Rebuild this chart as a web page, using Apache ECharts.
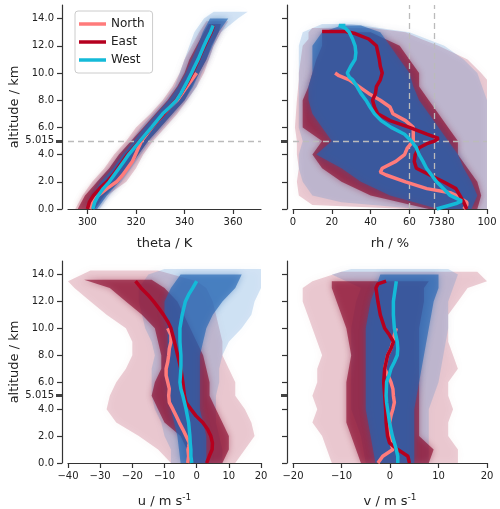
<!DOCTYPE html>
<html>
<head>
<meta charset="utf-8">
<script src="https://cdn.jsdelivr.net/npm/echarts@6/dist/echarts.min.js"></script>
<style>html,body{margin:0;padding:0;background:#fff}#c{width:500px;height:509px}</style>
</head>
<body>
<div id="c"></div>
<script>
// tick labels
var altTicks = [0, 2, 4, 6, 8, 10, 12, 14];
var altMark = 5.015;
var thetaTicks = [300, 320, 340, 360];
var rhTicks = [0, 20, 40, 60, 73, 80, 100];
var rhGuides = [60, 73];

// mean profiles, [value, altitude km]
var thetaNorth = [[301,0],[302,0.5],[304.5,1],[308,1.5],[312,2],[314.5,2.5],[316.5,3],[318.5,3.5],[319.8,4],[321,4.5],[322.3,5],[324.4,5.5],[326.6,6],[329,6.5],[331.5,7],[334,7.5],[337,8],[339,8.5],[341,9],[343,9.5],[345,10]];
var thetaEast = [[300,0],[300.8,0.5],[302.5,1],[305,1.5],[308,2],[310.5,2.5],[312.5,3],[314.5,3.5],[316.5,4],[319,4.5],[321.5,5],[324,5.5],[326.5,6],[329,6.5],[331.5,7],[334,7.5],[336.5,8],[338.5,8.5],[340.2,9],[341.8,9.5],[343.2,10],[344.5,10.5],[345.8,11],[347,11.5],[348.3,12],[349.6,12.5],[351,13],[352,13.5]];
var thetaWest = [[302.2,0],[303,0.5],[304.5,1],[306.5,1.5],[309,2],[311,2.5],[313,3],[315,3.5],[317,4],[319.3,4.5],[321.6,5],[324,5.5],[326.4,6],[328.7,6.5],[331,7],[334,7.5],[336.7,8],[338.5,8.5],[340,9],[341.5,9.5],[342.9,10],[344.2,10.5],[345.6,11],[346.8,11.5],[348,12],[349.3,12.5],[350.7,13],[351.8,13.5]];

var rhNorth = [[88,0],[89.6,0.3],[89.6,0.5],[84,1],[81,1.2],[69,1.5],[58,2],[48,2.5],[45,2.7],[46,3],[53,3.5],[57.5,4],[59,4.5],[62,5],[62,5.5],[62,6],[58,6.5],[51.5,7],[50,7.5],[45,8],[39,8.5],[34,9],[29,9.5],[23.7,9.8],[21.7,10]];
var rhEast = [[89.6,0],[88,0.5],[86,1],[84,1.5],[77.5,2],[70.5,2.5],[63.6,3],[62.5,3.5],[63,4],[65,4.5],[69,4.8],[73,5],[75,5.2],[69,5.5],[60,6],[50,6.5],[43.7,7],[42,7.5],[41,8],[42.5,8.5],[43,9],[45,9.5],[46,10],[45,10.5],[44.5,11],[43,12],[39,12.5],[32,12.9],[27,13.05],[15,13.05]];
var rhWest = [[74,0],[79,0.2],[84,0.4],[87,0.6],[81,1],[77.5,1.5],[74,2],[71.4,2.5],[68.8,3],[67,3.5],[65,4],[63.6,4.5],[61,5],[57.5,5.5],[50.6,6],[45.4,6.5],[42,7],[39.7,7.5],[37.6,8],[35,8.5],[33,9],[30.7,9.5],[29,9.7],[28,10],[29.8,10.5],[32,11],[32.4,11.5],[32,12],[30.7,12.5],[29,13],[27,13.3],[23.7,13.5],[27,13.5]];

var uNorth = [[-2.8,0],[-2.5,0.5],[-2.7,1],[-2.5,1.2],[-2.3,1.5],[-3.3,2],[-4.3,2.5],[-5.4,3],[-6.4,3.5],[-7.4,4],[-8.5,4.5],[-8.7,5],[-8.5,5.5],[-9,6],[-9.5,6.5],[-9.5,7],[-9,7.5],[-8.7,8],[-8.5,8.5],[-8,9],[-8,9.5],[-9,10]];
var uEast = [[3.1,0],[3.9,0.5],[4.8,1],[4.9,1.5],[4.4,2],[3.4,2.5],[1.9,3],[-0.2,3.5],[-1.8,4],[-3.3,4.5],[-3.8,5],[-4.3,6],[-4.9,7],[-5.9,8],[-6.9,9],[-8,10],[-9,10.5],[-10.3,11],[-11.8,11.5],[-13.4,12],[-15.2,12.5],[-17.3,13],[-19,13.5]];
var uWest = [[-1.5,0],[-1.8,0.5],[-1.8,1],[-2,1.5],[-2.1,2],[-2.5,3],[-3.3,4],[-3.8,4.5],[-4.3,5],[-4.9,5.5],[-5.2,6],[-4.9,7],[-4.9,8],[-5.2,9],[-5.2,10],[-4.5,11],[-3.5,12],[-2.5,12.5],[-1.2,13],[0,13.5]];

var vNorth = [[-2.5,0],[-1.5,0.5],[0.6,1],[0.2,1.5],[-0.1,2],[-0.1,3],[0.2,3.5],[0.6,4],[0.9,4.5],[0.7,5],[0.6,5.5],[0.2,6],[-0.4,6.5],[-1.1,7],[-0.8,7.5],[-0.5,8],[0.2,8.5],[0.6,9],[0.9,9.5],[1.3,10]];
var vEast = [[4,0],[3.7,0.5],[1.6,1],[-0.1,1.5],[-0.5,2],[-0.8,3],[-0.9,4],[-1.1,5],[-1.3,6],[-1.1,7],[-0.8,7.5],[-0.5,8],[0.2,8.5],[0.7,9],[-0.1,9.5],[-1.1,10],[-2,11],[-2.5,12],[-2.9,13],[-2.5,13.3],[-0.8,13.5]];
var vWest = [[1.6,0],[1.6,0.5],[1.3,1],[0.5,2],[-0.1,3],[-0.5,4],[-0.7,4.5],[-0.8,5],[-0.7,6],[-0.2,6.5],[0.2,7],[0.9,7.5],[1.5,8],[1.6,8.5],[1.5,9],[0.9,10],[0.7,11],[0.7,12],[1.1,13],[1.3,13.5]];

// ensemble envelopes, [altitude km, low, high]
var thetaRedOuter = [[0,295,303],[1,298,308],[2,302,316],[3,307,320],[4,311,323],[5,316,327],[6,320,332],[7,326,337],[8,331,341],[9,335,345],[10,338,348],[11,340,350],[12,343,352],[13,346,355],[13.8,349,358]];
var thetaRedInner = [[0,296,303],[1,299,307],[2,304,313],[3,309,317],[4,313,321],[5,318,325],[6,323,330],[7,328,335],[8,333,340],[9,337,343],[10,340,346],[11,342,349],[12,345,351],[13,348,354],[13.6,350,355]];
var thetaBlueOuter = [[0,300,305],[1,301,309],[2,304,314],[3,309,318],[4,313,322],[5,318,326],[6,322,331],[7,327,336],[8,332,341],[9,336,345],[10,338,347],[11,340,350],[12,342,352],[13,344,355],[14,348,362],[14.5,352,366]];
var thetaBlueInner = [[0,300.5,304],[1,302,308],[2,305.5,313],[3,310.5,317],[4,314.5,321],[5,319,325],[6,323.5,330],[7,328.5,335],[8,333.5,340],[9,337.5,343.5],[10,340.5,346],[11,343,349],[12,345.5,351.5],[13,347.5,354],[14,350.5,358]];

var rhRedOuter = [[0,60,100],[0.3,10,100],[1,3,100],[2,2,100],[3,3,100],[4,2,100],[5,2,100],[6,1,100],[8,2,100],[9.5,3,100],[10,3,97],[11,4,90],[12,5,75],[12.5,8,66],[13,8,58],[13.3,10,40]];
var rhRedInner = [[0,70,95],[1,40,97],[2,25,95],[3,15,90],[4,10,85],[5,15,85],[6,5,80],[7,5,75],[8,5,70],[9,8,65],[10,10,65],[11,12,60],[12,15,55],[13,15,40]];
var rhBlueOuter = [[0,65,100],[0.5,25,100],[1,10,100],[2,5,100],[3,3,100],[4,3,100],[5,5,100],[6,3,100],[8,3,100],[10,3,95],[11,3,88],[12,3,78],[13,5,60],[13.6,15,30]];
var rhBlueInner = [[0,75,92],[1,50,95],[2,35,92],[3,25,88],[4,12,85],[5,20,80],[6,15,75],[7,10,70],[8,8,65],[9,8,62],[10,10,60],[11,10,55],[12,10,50],[13,15,45],[13.5,25,35]];

var uRedOuter = [[0,-8,12],[1,-12,15],[2,-18,18],[3,-25,17],[4,-28,15],[5,-27,12],[6,-25,12],[7,-22,10],[8,-20,8],[9,-20,8],[10,-22,7],[11,-28,6],[12,-33,5],[13,-38,3],[13.5,-40,0],[14.3,-33,-12]];
var uRedInner = [[0,-3,8],[1,-3,10],[2,-5,10],[3,-10,8],[4,-12,6],[5,-14,4],[6,-13,4],[7,-11,3],[8,-11,2],[9,-12,0],[10,-13,-2],[11,-17,-4],[12,-22,-6],[13,-27,-10],[13.6,-35,-14]];
var uBlueOuter = [[0,-8,8],[1,-8,8],[2,-10,7],[3,-11,6],[4,-13,6],[5,-14,6],[6,-14,7],[7,-14,7],[8,-13,8],[9,-14,10],[10,-16,14],[11,-17,17],[12,-18,18],[13,-18,20],[14,-15,20],[14.4,-10,20]];
var uBlueInner = [[0,-5,3],[2,-6,3],[4,-8,1],[6,-9,1],[8,-9,1],[10,-9,3],[11,-10,5],[12,-10,8],[13,-8,12],[14,-5,14]];

var vRedOuter = [[0,-12,14],[1,-13,14],[2,-14,12],[3,-16,12],[4,-15,13],[5,-16,12],[6,-15,12],[7,-15,14],[8,-14,13],[9,-15,12],[10,-16,12],[11,-17,12],[12,-18,14],[13,-18,16],[13.5,-16,20],[14.2,-10,18]];
var vRedInner = [[0,-6,8],[1,-7,9],[2,-8,6],[3,-9,6],[4,-9,6],[6,-9,6],[8,-8,6],[10,-9,6],[12,-11,7],[13,-12,7],[13.5,-12,8]];
var vBlueOuter = [[0,-5,8],[2,-6,8],[4,-8,8],[6,-8,10],[8,-8,11],[10,-8,12],[12,-7,12],[13,-6,13],[14,-12,14],[14.4,-8,12]];
var vBlueInner = [[0,-3,5],[2,-4,5],[4,-5,5],[6,-5,6],[8,-5,7],[10,-5,8],[12,-4,9],[13,-3,10],[14,-2,10]];

var cNorth = '#ff7b7b', cEast = '#b5001f', cWest = '#14bad8';
var redA = 'rgba(165,15,50,0.2)', redB = 'rgba(135,5,40,0.62)';
var blueA = 'rgba(45,125,205,0.2)', blueB = 'rgba(35,100,178,0.64)';
var ink = '#333';
var font = 'DejaVu Sans';

var chart = echarts.init(document.getElementById('c'), null, {renderer: 'canvas'});

var grids = [
  {left: 68, top: 5, width: 193, height: 204},
  {left: 293, top: 5, width: 194, height: 204},
  {left: 68, top: 261, width: 193, height: 204},
  {left: 293, top: 261, width: 194, height: 204}
];

function minus(v) { return String(v).replace('-', '\u2212'); }

function xAx(i, min, max, name, extra) {
  var a = {
    type: 'value', gridIndex: i, min: min, max: max, name: name,
    nameLocation: 'middle', nameGap: 28,
    nameTextStyle: {fontFamily: font, fontSize: 13, color: '#222',
      rich: {sup: {fontFamily: font, fontSize: 9, color: '#222', verticalAlign: 'top', padding: [0, 0, 8, 0]}}},
    splitLine: {show: false},
    axisLine: {show: true, onZero: false, lineStyle: {color: ink, width: 1.2}},
    axisTick: {show: true, length: 5, lineStyle: {color: ink, width: 1.2}},
    axisLabel: {fontFamily: font, fontSize: 10, color: '#222', margin: 8, formatter: minus}
  };
  for (var k in extra) a[k] = extra[k];
  return a;
}

function yAxes(i, showLabel) {
  return [{
    type: 'value', gridIndex: i, min: 0, max: 15, offset: 6, position: 'left',
    name: showLabel ? 'altitude / km' : '', nameLocation: 'middle', nameGap: 36,
    nameTextStyle: {fontFamily: font, fontSize: 13, color: '#222'},
    splitLine: {show: false},
    axisLine: {show: true, onZero: false, lineStyle: {color: ink, width: 1.2}},
    axisTick: {show: true, length: 5, customValues: altTicks, lineStyle: {color: ink, width: 1.2}},
    axisLabel: {show: showLabel, fontFamily: font, fontSize: 10, color: '#222', margin: 8,
      customValues: altTicks.concat([altMark]),
      formatter: function (v) { return v === altMark ? '5.015' : v.toFixed(1); }}
  }, {
    type: 'value', gridIndex: i, min: 0, max: 15, offset: 6, position: 'left',
    splitLine: {show: false}, axisLine: {show: false, onZero: false}, axisLabel: {show: false},
    axisTick: {show: true, length: 6, customValues: [altMark], lineStyle: {color: '#444', width: 3}}
  }];
}

function band(i, rows, color, blur) {
  return {
    type: 'custom', xAxisIndex: i, yAxisIndex: 2 * i, data: rows, silent: true, clip: true,
    encode: {x: [1, 2], y: 0}, z: 1,
    renderItem: function (params, api) {
      if (params.dataIndex !== 0) return null;
      var pts = [];
      for (var j = 0; j < rows.length; j++) pts.push(api.coord([rows[j][1], rows[j][0]]));
      for (var k = rows.length - 1; k >= 0; k--) pts.push(api.coord([rows[k][2], rows[k][0]]));
      return {type: 'polygon', shape: {points: pts},
        style: {fill: color, shadowBlur: blur, shadowColor: color}};
    }
  };
}

function mean(i, name, data, color) {
  return {
    type: 'line', name: name, xAxisIndex: i, yAxisIndex: 2 * i, data: data,
    showSymbol: false, symbol: 'none', z: 5, color: color,
    lineStyle: {color: color, width: 3.5}
  };
}

function guides(i, lines) {
  return {
    type: 'line', name: 'guide' + i, xAxisIndex: i, yAxisIndex: 2 * i, data: [], z: 4,
    markLine: {silent: true, symbol: 'none', label: {show: false},
      lineStyle: {color: '#bbb', type: [6, 4], width: 1.3}, data: lines}
  };
}

var sets = [
  [thetaRedOuter, thetaBlueOuter, thetaRedInner, thetaBlueInner, thetaNorth, thetaEast, thetaWest],
  [rhRedOuter, rhBlueOuter, rhRedInner, rhBlueInner, rhNorth, rhEast, rhWest],
  [uRedOuter, uBlueOuter, uRedInner, uBlueInner, uNorth, uEast, uWest],
  [vRedOuter, vBlueOuter, vRedInner, vBlueInner, vNorth, vEast, vWest]
];

var series = [];
sets.forEach(function (s, i) {
  series.push(band(i, s[0], redA, 10), band(i, s[1], blueA, 10), band(i, s[2], redB, 6), band(i, s[3], blueB, 6));
});
series.push(guides(0, [{yAxis: altMark}]));
series.push(guides(1, [{yAxis: altMark}].concat(rhGuides.map(function (g) { return {xAxis: g}; }))));
sets.forEach(function (s, i) {
  series.push(mean(i, 'North', s[4], cNorth), mean(i, 'East', s[5], cEast), mean(i, 'West', s[6], cWest));
});

var yAll = [].concat(yAxes(0, true), yAxes(1, false), yAxes(2, true), yAxes(3, false));

chart.setOption({
  animation: false,
  backgroundColor: '#fff',
  grid: grids,
  legend: {
    data: ['North', 'East', 'West'], orient: 'vertical', left: 75, top: 11,
    icon: 'rect', itemWidth: 27, itemHeight: 3.5, itemGap: 4,
    padding: [6, 8, 6, 4], backgroundColor: 'rgba(255,255,255,0.85)',
    borderColor: '#ccc', borderWidth: 1, borderRadius: 3,
    textStyle: {fontFamily: font, fontSize: 12, color: '#222', lineHeight: 14}
  },
  xAxis: [
    xAx(0, 292, 371.5, 'theta / K', {axisTick: {show: true, length: 5, customValues: thetaTicks, lineStyle: {color: ink, width: 1.2}},
      axisLabel: {fontFamily: font, fontSize: 10, color: '#222', margin: 8, customValues: thetaTicks}}),
    xAx(1, 0, 100, 'rh / %', {axisTick: {show: true, length: 5, customValues: rhTicks, lineStyle: {color: ink, width: 1.2}},
      axisLabel: {fontFamily: font, fontSize: 10, color: '#222', margin: 8, customValues: rhTicks}}),
    xAx(2, -40, 20, 'u / m s{sup|-1}', {interval: 10, nameGap: 30}),
    xAx(3, -20, 20, 'v / m s{sup|-1}', {interval: 10, nameGap: 30})
  ],
  yAxis: yAll,
  series: series
});
</script>
</body>
</html>
